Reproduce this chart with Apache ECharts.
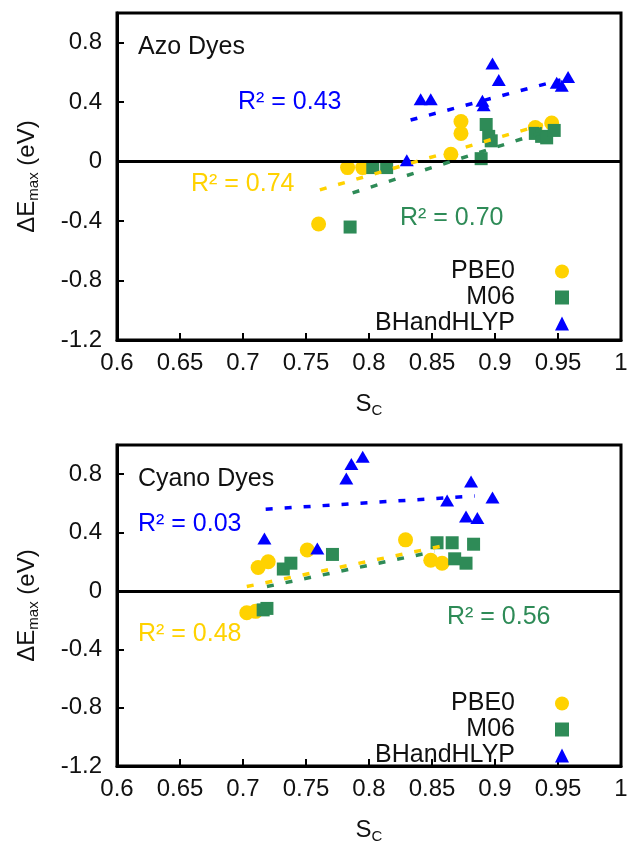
<!DOCTYPE html>
<html>
<head>
<meta charset="utf-8">
<script src="https://cdn.jsdelivr.net/npm/echarts@6/dist/echarts.min.js"></script>
<style>
  html, body { margin: 0; padding: 0; background: #fff; }
  #chart { width: 643px; height: 845px; }
</style>
</head>
<body>
<div id="chart"></div>
<script>
// ---- data: S_C vs ΔE_max (eV) ----
const methods = ['PBE0', 'M06', 'BHandHLYP'];

// Azo dyes
const azoPBE0 = [[0.760, -0.42], [0.783, -0.04], [0.795, -0.04], [0.865, 0.05], [0.873, 0.27], [0.873, 0.19], [0.932, 0.23], [0.945, 0.26]];
const azoM06 = [[0.785, -0.44], [0.803, -0.04], [0.814, -0.04], [0.889, 0.02], [0.893, 0.25], [0.895, 0.17], [0.897, 0.14], [0.932, 0.19], [0.937, 0.17], [0.941, 0.16], [0.947, 0.21]];
const azoBHandHLYP = [[0.830, 0.01], [0.841, 0.42], [0.849, 0.42], [0.890, 0.41], [0.891, 0.38], [0.898, 0.66], [0.903, 0.55], [0.949, 0.53], [0.953, 0.51], [0.958, 0.57]];
// linear fits (end points) and their R²
const azoFitPBE0 = [[0.761, -0.19], [0.938, 0.25]];
const azoFitM06 = [[0.787, -0.21], [0.935, 0.19]];
const azoFitBHandHLYP = [[0.833, 0.28], [0.952, 0.55]];
const azoR2 = { PBE0: '0.74', M06: '0.70', BHandHLYP: '0.43' };

// Cyano dyes
const cyanoPBE0 = [[0.703, -0.15], [0.710, -0.14], [0.712, 0.16], [0.720, 0.20], [0.751, 0.28], [0.829, 0.35], [0.849, 0.21], [0.858, 0.19]];
const cyanoM06 = [[0.716, -0.13], [0.719, -0.12], [0.732, 0.15], [0.738, 0.19], [0.771, 0.25], [0.854, 0.33], [0.866, 0.33], [0.868, 0.22], [0.877, 0.19], [0.883, 0.32]];
const cyanoBHandHLYP = [[0.717, 0.36], [0.759, 0.29], [0.782, 0.77], [0.786, 0.87], [0.795, 0.92], [0.862, 0.62], [0.877, 0.51], [0.881, 0.75], [0.886, 0.50], [0.898, 0.64]];
const cyanoFitPBE0 = [[0.703, 0.03], [0.865, 0.32]];
const cyanoFitM06 = [[0.719, 0.03], [0.852, 0.27]];
const cyanoFitBHandHLYP = [[0.718, 0.56], [0.884, 0.65]];
const cyanoR2 = { PBE0: '0.48', M06: '0.56', BHandHLYP: '0.03' };

const panelTitles = ['Azo Dyes', 'Cyano Dyes'];
const xTicks = { min: 0.6, max: 1.0, step: 0.05 };
const yTicks = { min: -1.2, max: 1.0, step: 0.4 };

// ---- styling ----
const FONT = '"Liberation Sans", Arial, Helvetica, sans-serif';
const colors = { PBE0: '#FFD200', M06: '#2E8B57', BHandHLYP: '#0000FF' };
const symbols = { PBE0: 'circle', M06: 'rect', BHandHLYP: 'triangle' };
const symbolSizes = { PBE0: 15, M06: 13, BHandHLYP: [14, 12] };

const panels = [
  { points: { PBE0: azoPBE0, M06: azoM06, BHandHLYP: azoBHandHLYP },
    fits: { PBE0: azoFitPBE0, M06: azoFitM06, BHandHLYP: azoFitBHandHLYP },
    r2: azoR2,
    grid: { top: 13, height: 327 },
    r2Pos: { BHandHLYP: [238, 102], PBE0: [191, 184], M06: [400, 218] } },
  { points: { PBE0: cyanoPBE0, M06: cyanoM06, BHandHLYP: cyanoBHandHLYP },
    fits: { PBE0: cyanoFitPBE0, M06: cyanoFitM06, BHandHLYP: cyanoFitBHandHLYP },
    r2: cyanoR2,
    grid: { top: 445, height: 323 },
    r2Pos: { BHandHLYP: [138, 524], PBE0: [138, 634], M06: [447, 617] } }
];

const chart = echarts.init(document.getElementById('chart'), null, { renderer: 'canvas' });

const grids = [], xAxes = [], yAxes = [], series = [], legends = [], titles = [], graphics = [];

panels.forEach((p, i) => {
  grids.push({
    left: 117, right: 22, top: p.grid.top, height: p.grid.height,
    show: true, borderColor: '#000', borderWidth: 3, backgroundColor: 'transparent'
  });
  xAxes.push({
    type: 'value', gridIndex: i, min: xTicks.min, max: xTicks.max, interval: xTicks.step,
    name: '{m|S}{s|C}', nameLocation: 'middle', nameGap: 52,
    nameTextStyle: {
      rich: {
        m: { fontFamily: FONT, fontSize: 24, color: '#111', lineHeight: 26, verticalAlign: 'top' },
        s: { fontFamily: FONT, fontSize: 15, color: '#111', lineHeight: 15, padding: [14, 0, 0, 0], verticalAlign: 'bottom' }
      }
    },
    axisLine: { show: true, onZero: false, lineStyle: { color: '#000', width: 3 } },
    axisTick: { show: true, inside: true, length: 7, lineStyle: { color: '#000', width: 2 } },
    axisLabel: { fontFamily: FONT, fontSize: 24, color: '#111', margin: 11 },
    splitLine: { show: false }
  });
  yAxes.push({
    type: 'value', gridIndex: i, min: yTicks.min, max: yTicks.max, interval: yTicks.step,
    name: '{m|ΔE}{s|max}{m| (eV)}', nameLocation: 'middle', nameGap: 76, nameRotate: 90,
    nameTextStyle: {
      rich: {
        m: { fontFamily: FONT, fontSize: 24, color: '#111', lineHeight: 26, verticalAlign: 'top' },
        s: { fontFamily: FONT, fontSize: 15, color: '#111', lineHeight: 15, padding: [12, 0, 0, 0], verticalAlign: 'bottom' }
      }
    },
    axisLine: { show: true, onZero: false, lineStyle: { color: '#000', width: 3 } },
    axisTick: { show: true, inside: true, length: 7, lineStyle: { color: '#000', width: 2 } },
    axisLabel: { fontFamily: FONT, fontSize: 24, color: '#111', margin: 15, showMaxLabel: false },
    splitLine: { show: false }
  });

  // scatter marks
  methods.forEach((m, k) => {
    const s = {
      type: 'scatter', name: m, xAxisIndex: i, yAxisIndex: i,
      data: p.points[m], symbol: symbols[m], symbolSize: symbolSizes[m],
      itemStyle: { color: colors[m], opacity: 1 }, z: 3 + k
    };
    if (k === 0) {
      s.markLine = {
        silent: true, symbol: 'none', animation: false,
        label: { show: false },
        lineStyle: { color: '#000', type: 'solid', width: 3 },
        data: [{ yAxis: 0 }]
      };
    }
    series.push(s);
  });

  // dashed regression lines
  methods.forEach((m) => {
    series.push({
      type: 'line', name: m + ' fit', xAxisIndex: i, yAxisIndex: i,
      data: p.fits[m], showSymbol: false, symbol: 'none', silent: true,
      lineStyle: { color: colors[m], width: 3.5, type: [7, 12], cap: 'butt' },
      z: 8
    });
  });

  // key: label on the left, marker on the right
  legends.push({
    data: methods, orient: 'vertical', align: 'right',
    right: 69, top: p.grid.top + 241, padding: 5,
    itemWidth: 14, itemHeight: 14, itemGap: 1,
    textStyle: { fontFamily: FONT, fontSize: 25, color: '#111', lineHeight: 24, padding: [0, 35, 0, 0] },
    selectedMode: false
  });

  titles.push({
    text: panelTitles[i], left: 138, top: p.grid.top + 22, padding: 0,
    textStyle: { fontFamily: FONT, fontSize: 25, fontWeight: 'normal', color: '#111' }
  });

  methods.forEach((m) => {
    graphics.push({
      type: 'text', x: p.r2Pos[m][0], y: p.r2Pos[m][1], silent: true,
      style: {
        text: 'R² = ' + p.r2[m], fill: colors[m],
        font: '25px ' + FONT, align: 'left', verticalAlign: 'middle'
      }
    });
  });
});

chart.setOption({
  animation: false,
  backgroundColor: '#fff',
  title: titles,
  legend: legends,
  grid: grids,
  xAxis: xAxes,
  yAxis: yAxes,
  series: series,
  graphic: graphics
});
</script>
</body>
</html>
